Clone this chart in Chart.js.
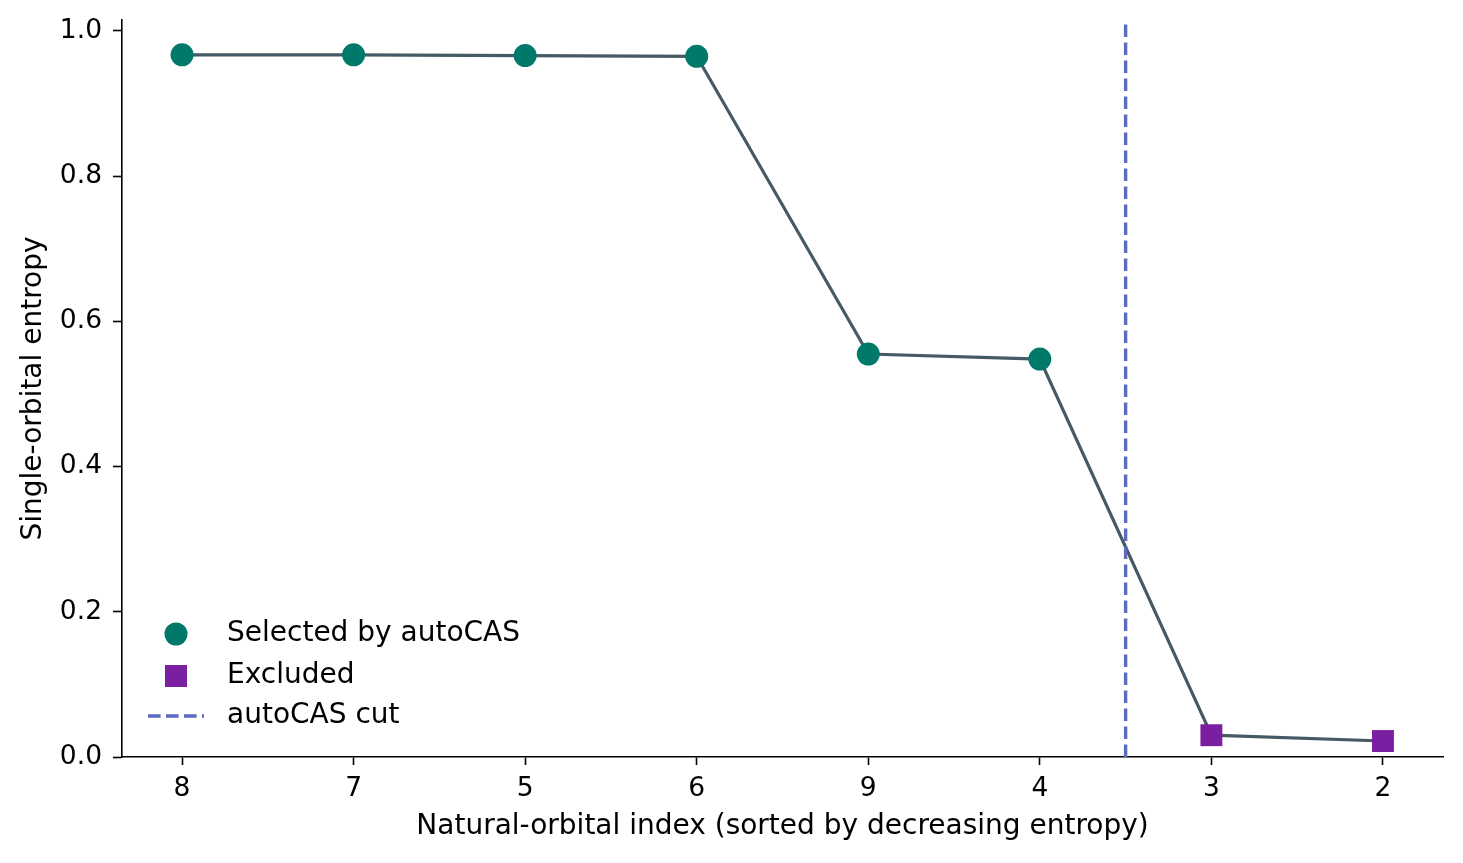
<!DOCTYPE html>
<html>
<head>
<meta charset="utf-8">
<script src="https://cdn.jsdelivr.net/npm/chart.js@4.4.0/dist/chart.umd.min.js"></script>
<style>
  html, body { margin: 0; padding: 0; background: #fff; }
  #wrap { width: 1463px; height: 863px; }
</style>
</head>
<body>
<div id="wrap"><canvas id="myChart"></canvas></div>
<script>
// orbital labels, in the order they are plotted
const orbitals = [ '8', '7', '5', '6', '9', '4', '3', '2' ];
const entropy = [ 0.967, 0.967, 0.966, 0.965, 0.555, 0.548, 0.030, 0.022 ];
const nSelected = 6;          // first six are kept by autoCAS
const cutAt = 5.5;            // cut sits between 4 and 3
const yTicks = [ 0, 0.2, 0.4, 0.6, 0.8, 1.0 ];

const FONT = 'DejaVu Sans';
const lineCol = '#455A64';
const selCol = '#00796B';
const excCol = '#7B1FA2';
const cutCol = '#5C6BC0';

const allPts = entropy.map( ( v, i ) => ( { x: i, y: v } ) );
const selPts = allPts.slice( 0, nSelected );
const excPts = allPts.slice( nSelected );

// legend drawn inside the axes, bottom left (like matplotlib's loc="lower left")
const insideLegend = {
  id: 'insideLegend',
  afterDraw( chart ) {
    const ctx = chart.ctx;
    ctx.save();
    ctx.font = '28px "' + FONT + '"';
    ctx.textBaseline = 'middle';

    // circle
    ctx.beginPath();
    ctx.arc( 176, 634, 11.5, 0, Math.PI * 2 );
    ctx.fillStyle = selCol;
    ctx.fill();
    // square
    ctx.fillStyle = excCol;
    ctx.fillRect( 165, 665, 22, 22 );
    // dashed line
    ctx.strokeStyle = cutCol;
    ctx.lineWidth = 3.4;
    ctx.setLineDash( [ 12.6, 5.4 ] );
    ctx.beginPath();
    ctx.moveTo( 148, 716 );
    ctx.lineTo( 204, 716 );
    ctx.stroke();
    ctx.setLineDash( [] );

    ctx.fillStyle = '#000';
    ctx.fillText( 'Selected by autoCAS', 227, 634 );
    ctx.fillText( 'Excluded', 227, 676 );
    ctx.fillText( 'autoCAS cut', 227, 716 );
    ctx.restore();
  }
};

const ctx = document.getElementById( 'myChart' ).getContext( '2d' );
const myChart = new Chart( ctx, {
  type: 'scatter',
  data: {
    datasets: [
      {
        label: 'Selected by autoCAS',
        data: selPts,
        backgroundColor: selCol,
        borderColor: selCol,
        pointStyle: 'circle',
        pointRadius: 11.5,
        pointBorderWidth: 0,
        clip: false,
        order: 0
      },
      {
        label: 'Excluded',
        data: excPts,
        backgroundColor: excCol,
        borderColor: excCol,
        pointStyle: 'rect',
        pointRadius: 15.5,
        pointBorderWidth: 0,
        clip: false,
        order: 0
      },
      {
        label: 'path',
        type: 'line',
        data: allPts,
        borderColor: lineCol,
        borderWidth: 3.2,
        pointRadius: 0,
        tension: 0,
        order: 2
      },
      {
        label: 'autoCAS cut',
        type: 'line',
        data: [ { x: cutAt, y: 0 }, { x: cutAt, y: 1.015 } ],
        borderColor: cutCol,
        borderWidth: 3.4,
        borderDash: [ 12.6, 5.4 ],
        pointRadius: 0,
        order: 1
      }
    ]
  },
  options: {
    responsive: true,
    maintainAspectRatio: false,
    animation: false,
    devicePixelRatio: 1,
    layout: { padding: { left: 0, right: 20, top: 20, bottom: 0 } },
    plugins: {
      legend: { display: false },
      tooltip: { enabled: false }
    },
    scales: {
      x: {
        type: 'linear',
        min: -0.35,
        max: 7.35,
        afterBuildTicks: s => { s.ticks = orbitals.map( ( _, i ) => ( { value: i } ) ); },
        afterFit: s => { s.height = 106; s.paddingLeft = 0; s.paddingRight = 0; },
        ticks: {
          color: '#000',
          font: { family: FONT, size: 26.5 },
          padding: 8,
          maxRotation: 0,
          autoSkip: false,
          callback: v => orbitals[ v ]
        },
        grid: { drawOnChartArea: false, drawTicks: true, tickLength: 8, color: '#000', tickWidth: 1.6 },
        border: { display: true, color: '#000', width: 1.6 },
        title: {
          display: true,
          text: 'Natural-orbital index (sorted by decreasing entropy)',
          color: '#000',
          font: { family: FONT, size: 28 },
          padding: { top: 0, bottom: 19 }
        }
      },
      y: {
        min: 0,
        max: 1.015,
        afterBuildTicks: s => { s.ticks = yTicks.map( v => ( { value: v } ) ); },
        afterFit: s => { s.width = 122; s.paddingTop = 0; s.paddingBottom = 0; },
        ticks: {
          color: '#000',
          font: { family: FONT, size: 26.5 },
          padding: 11,
          callback: v => v.toFixed( 1 )
        },
        grid: { drawOnChartArea: false, drawTicks: true, tickLength: 9, color: '#000', tickWidth: 1.6 },
        border: { display: true, color: '#000', width: 1.6 },
        title: {
          display: true,
          text: 'Single-orbital entropy',
          color: '#000',
          font: { family: FONT, size: 28 },
          padding: { top: 17, bottom: 0 }
        }
      }
    }
  },
  plugins: [ insideLegend ]
} );
</script>
</body>
</html>
